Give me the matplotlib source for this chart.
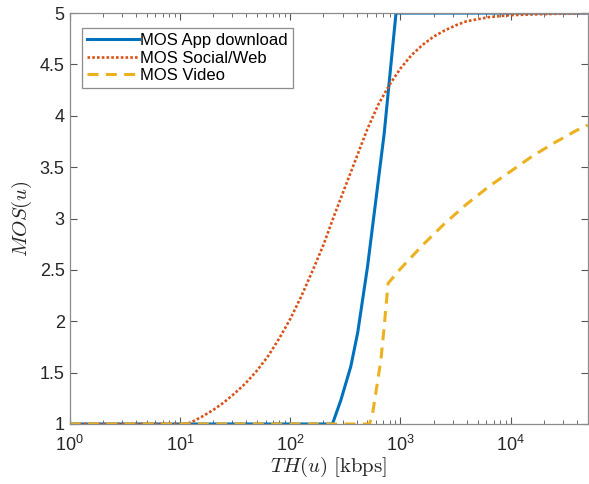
import matplotlib
matplotlib.use('Agg')
import matplotlib.pyplot as plt
from matplotlib.ticker import FixedLocator, LogLocator, NullFormatter

plt.rcParams['font.family'] = ['Liberation Sans Narrow', 'Liberation Sans', 'DejaVu Sans']
plt.rcParams['mathtext.fontset'] = 'cm'

# throughput (kbps) and MOS values
appX = [1, 242, 288, 355, 410, 503, 599, 713, 800, 912, 50000]
appY = [1, 1, 1.23, 1.56, 1.89, 2.53, 3.18, 3.83, 4.38, 5.0, 5.0]

webX = [1, 11.2, 12.6, 15.8, 20, 25.1, 31.6, 39.8, 50.1, 63.1, 79.4, 100, 126, 158, 200,
        251, 316, 398, 501, 631, 794, 1000, 1259, 1585, 1995, 2512, 3162, 3981, 6310,
        10000, 20000, 50000]
webY = [1, 1, 1.015, 1.07, 1.135, 1.21, 1.30, 1.40, 1.52, 1.66, 1.83, 2.02, 2.24, 2.48, 2.74,
        3.03, 3.31, 3.59, 3.87, 4.11, 4.30, 4.46, 4.59, 4.69, 4.77, 4.83, 4.88, 4.92, 4.96,
        4.98, 4.99, 5.0]

vidX = [1, 525, 559, 665, 713, 754, 774, 1000, 1585, 2512, 3981, 6310, 10000, 15850,
        25120, 39810, 50000]
vidY = [1, 1, 1.10, 1.62, 1.95, 2.24, 2.37, 2.51, 2.74, 2.95, 3.14, 3.31, 3.46, 3.61,
        3.74, 3.86, 3.91]

yTicks = [1, 1.5, 2, 2.5, 3, 3.5, 4, 4.5, 5]
yTickLabels = ['1', '1.5', '2', '2.5', '3', '3.5', '4', '4.5', '5']

fig = plt.figure(figsize=(5.89, 4.84), dpi=100)
ax = fig.add_axes([0.118, 0.124, 0.880, 0.849])

ax.plot(appX, appY, color='#0072BD', lw=2.2, label='MOS App download')
ax.plot(webX, webY, color='#D95319', lw=1.9, linestyle=(0, (1, 0.8)), label='MOS Social/Web')
ax.plot(vidX, vidY, color='#EDB120', lw=2.2, linestyle=(0, (3.6, 2.4)), label='MOS Video')

ax.set_xscale('log')
ax.set_xlim(1, 50000)
ax.set_ylim(1, 5)
ax.yaxis.set_major_locator(FixedLocator(yTicks))
ax.set_yticklabels(yTickLabels)
ax.xaxis.set_major_locator(LogLocator(base=10, numticks=10))
ax.xaxis.set_minor_locator(LogLocator(base=10, subs=range(2, 10), numticks=20))
ax.xaxis.set_minor_formatter(NullFormatter())

for s in ax.spines.values():
  s.set_color('#8c8c8c')
  s.set_linewidth(0.9)
ax.tick_params(which='both', direction='in', top=True, right=True, color='#555555',
               labelsize=13, labelcolor='#262626')
ax.tick_params(which='major', length=5)
ax.tick_params(which='minor', length=3)
ax.tick_params(axis='x', pad=8)

ax.set_xlabel(r'$TH(u)\ [\mathrm{kbps}]$', fontsize=15, color='#262626', labelpad=0)
ax.set_ylabel(r'$MOS(u)$', fontsize=15, color='#262626', labelpad=4)

leg = ax.legend(loc='upper left', bbox_to_anchor=(0.024, 0.963), fontsize=12,
                frameon=True, fancybox=False, framealpha=1, edgecolor='#8c8c8c',
                handlelength=3.1, handletextpad=0.1, labelspacing=0.15,
                borderpad=0.3, borderaxespad=0)
leg.get_frame().set_linewidth(0.9)

plt.savefig('out.png', dpi=100)
